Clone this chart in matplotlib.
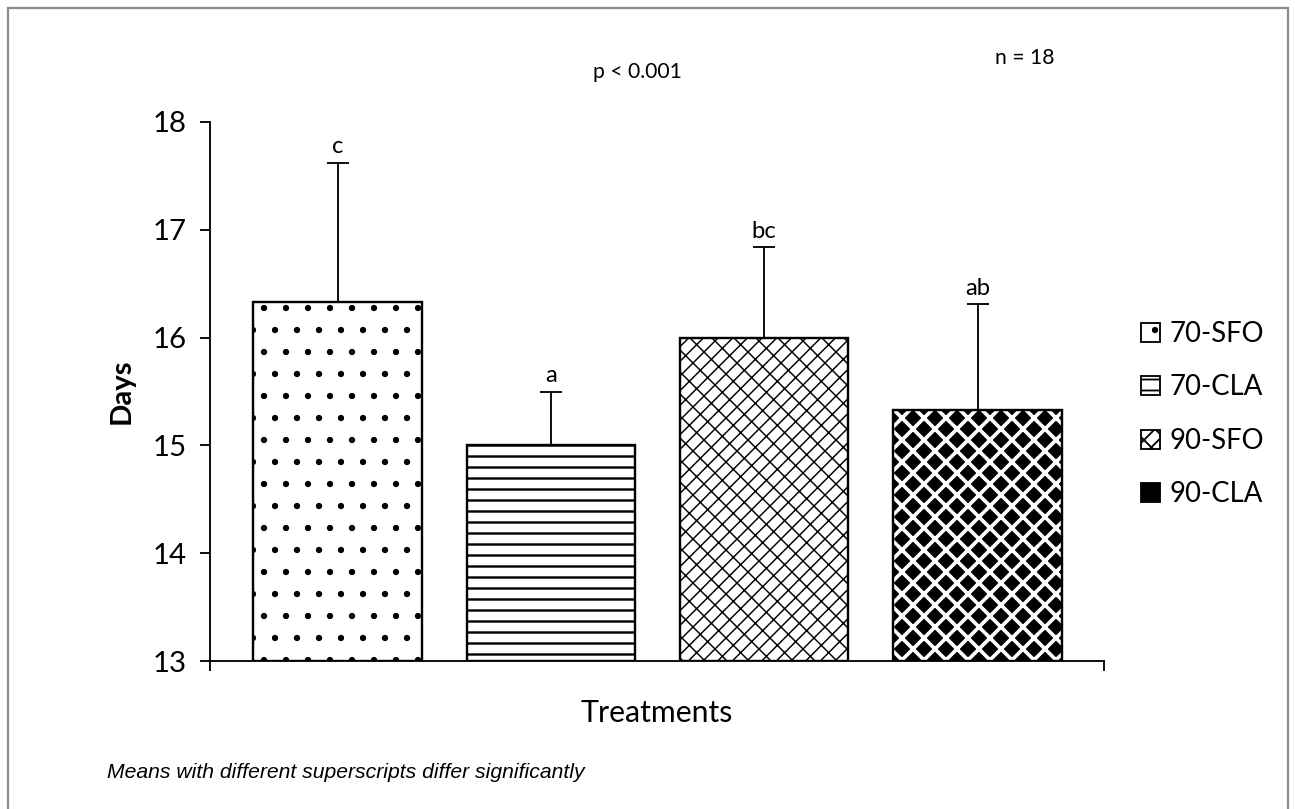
import numpy as np
import matplotlib.pyplot as plt
from matplotlib.patches import Rectangle

# data
treatments = ['70-SFO', '70-CLA', '90-SFO', '90-CLA']
means = [16.33, 15.0, 16.0, 15.33]
sd = [1.29, 0.5, 0.84, 0.98]
letters = ['c', 'a', 'bc', 'ab']

# hatch pattern, hatch line width, face colour and hatch colour per bar
hatches = ['.', '--', '///\\\\', 'xx']
hatch_lw = [1.0, 1.3, 0.8, 2.0]
faces = ['white', 'white', 'white', 'black']
hatch_cols = ['black', 'black', 'black', 'white']

plt.rcParams['font.family'] = ['Lato', 'DejaVu Sans']

dpi = 132
fig = plt.figure(figsize=(1295 / dpi, 809 / dpi), dpi=dpi)
ax = fig.add_axes([210 / 1295, 1 - 661 / 809, 894 / 1295, 539 / 809])

x = np.arange(len(treatments))
handles = []
for i in range(len(treatments)):
    # hatch follows the edge colour, so draw the filled bar first and the black outline on top
    with plt.rc_context({'hatch.linewidth': hatch_lw[i]}):
        b = ax.bar(x[i], means[i] - 13, bottom=13, width=0.79, color=faces[i],
                   edgecolor=hatch_cols[i], linewidth=0, hatch=hatches[i], zorder=2)
    ax.bar(x[i], means[i] - 13, bottom=13, width=0.79, fill=False,
           edgecolor='black', linewidth=1.3, zorder=2.5)
    handles.append(b)

# upper error bars only
ax.errorbar(x, means, yerr=[np.zeros(len(sd)), sd], fmt='none',
            ecolor='black', elinewidth=1.0, capsize=6, capthick=1.0, zorder=3)

for i in range(len(treatments)):
    ax.annotate(letters[i], (x[i], means[i] + sd[i]), xytext=(0, 3),
                textcoords='offset points', ha='center', va='bottom',
                fontsize=13)

ax.set_ylim(13, 18)
ax.set_yticks([13, 14, 15, 16, 17, 18])
ax.set_xlim(-0.598, 3.593)
ax.set_xticks([-0.598, 3.593])
ax.set_xticklabels([])
ax.tick_params(axis='both', direction='out', length=5.5, width=1.0, labelsize=16)
ax.tick_params(axis='y', pad=7)
for s in ['top', 'right']:
    ax.spines[s].set_visible(False)
for s in ['left', 'bottom']:
    ax.spines[s].set_linewidth(1.0)

ax.set_ylabel('Days', fontsize=16, fontweight='bold', labelpad=10)
ax.set_xlabel('Treatments', fontsize=16.5, labelpad=12)

leg = fig.legend(handles, treatments, loc='center left',
                 bbox_to_anchor=(1116 / 1295, 1 - 414 / 809),
                 frameon=False, fontsize=15, handlelength=0.7, handleheight=0.7,
                 handletextpad=0.35, labelspacing=1.0)
for p in leg.get_patches():
    p.set_linewidth(1.0)
    p.set_edgecolor('black')

fig.text(637 / 1295, 1 - 72 / 809, 'p < 0.001', ha='center', va='center', fontsize=11.5)
fig.text(1025 / 1295, 1 - 58 / 809, 'n = 18', ha='center', va='center', fontsize=11.5)
fig.text(107 / 1295, 1 - 773 / 809, 'Means with different superscripts differ significantly',
         ha='left', va='center', fontsize=11.5, style='italic',
         family=['Liberation Sans', 'DejaVu Sans'])

# grey frame around the chart, open at the bottom
fig.patches.append(Rectangle((8 / 1295, -0.05), 1280 / 1295, 1.05 - 8 / 809,
                             transform=fig.transFigure, fill=False,
                             edgecolor='#8c8c8c', linewidth=1.2))

fig.savefig('out.png', dpi=dpi)
